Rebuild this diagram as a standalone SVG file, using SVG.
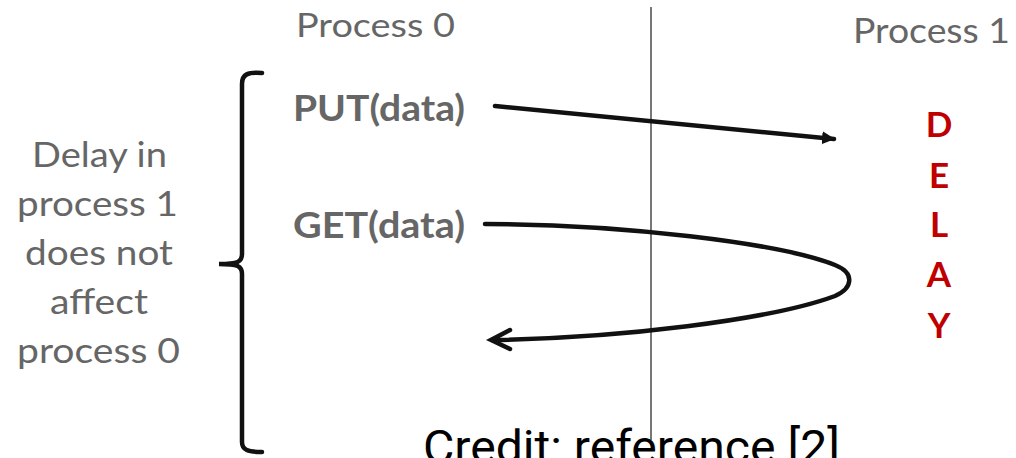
<svg xmlns="http://www.w3.org/2000/svg" width="1016" height="458" viewBox="0 0 1016 458">
<style>
.g{font-family:Lato,"Open Sans","Liberation Sans",sans-serif;fill:#666;}
.b{font-weight:bold;}
.red{font-family:Lato,"Open Sans","Liberation Sans",sans-serif;font-weight:bold;fill:#c00000;font-size:35px;text-anchor:middle;}
.ln{fill:none;stroke:#111;stroke-width:4.5;stroke-linecap:round;}
</style>
<defs>
<marker id="ah" viewBox="0 0 14 14" refX="12" refY="7" markerWidth="14" markerHeight="14" markerUnits="userSpaceOnUse" orient="auto">
<path d="M0,0.5 L13,7 L0,13.5 Z" fill="#111"/>
</marker>
</defs>
<line x1="651" y1="7" x2="651" y2="440" stroke="#777" stroke-width="2"/>
<g id="process0"><text class="g" x="296" y="37" font-size="33" textLength="159" lengthAdjust="spacingAndGlyphs">Process 0</text></g>
<g id="process1"><text class="g" x="853" y="43" font-size="34" textLength="157" lengthAdjust="spacingAndGlyphs">Process 1</text></g>
<g id="put"><text class="g b" x="293" y="121" font-size="37" textLength="172" lengthAdjust="spacingAndGlyphs">PUT(data)</text></g>
<g id="get"><text class="g b" x="293" y="238" font-size="36" textLength="172" lengthAdjust="spacingAndGlyphs">GET(data)</text></g>
<g id="note">
<text class="g" font-size="34" x="32" y="167" textLength="135" lengthAdjust="spacingAndGlyphs">Delay in</text>
<text class="g" font-size="34" x="17" y="216" textLength="161" lengthAdjust="spacingAndGlyphs">process 1</text>
<text class="g" font-size="34" x="25" y="265" textLength="148" lengthAdjust="spacingAndGlyphs">does not</text>
<text class="g" font-size="34" x="50" y="314" textLength="98" lengthAdjust="spacingAndGlyphs">affect</text>
<text class="g" font-size="34" x="17" y="363" textLength="163" lengthAdjust="spacingAndGlyphs">process 0</text>
</g>
<g id="delay">
<text class="red" x="939" y="137">D</text>
<text class="red" x="939" y="188">E</text>
<text class="red" x="939" y="237">L</text>
<text class="red" x="939" y="287">A</text>
<text class="red" x="939" y="338">Y</text>
</g>
<g id="brace">
<path class="ln" d="M262,73 C248,72 242,74 242,84 L242,254 C242,262 238,264 219,264 C238,264 242,266 242,274 L242,442 C242,450 248,452 262,452"/>
</g>
<g id="connectors">
<path class="ln" d="M495,106 L834,139" marker-end="url(#ah)"/>
<path class="ln" d="M485,224 C620,224 780,243 835,265 C855,273 853,288 835,296 C770,320 620,338 492,340"/>
<path class="ln" d="M510,330 L491,340 L510,349"/>
</g>
<g id="credit"><text x="423" y="463" font-family="Roboto,'Liberation Sans',sans-serif" font-size="46" fill="#000" textLength="417" lengthAdjust="spacingAndGlyphs">Credit: reference [2]</text></g>
</svg>
